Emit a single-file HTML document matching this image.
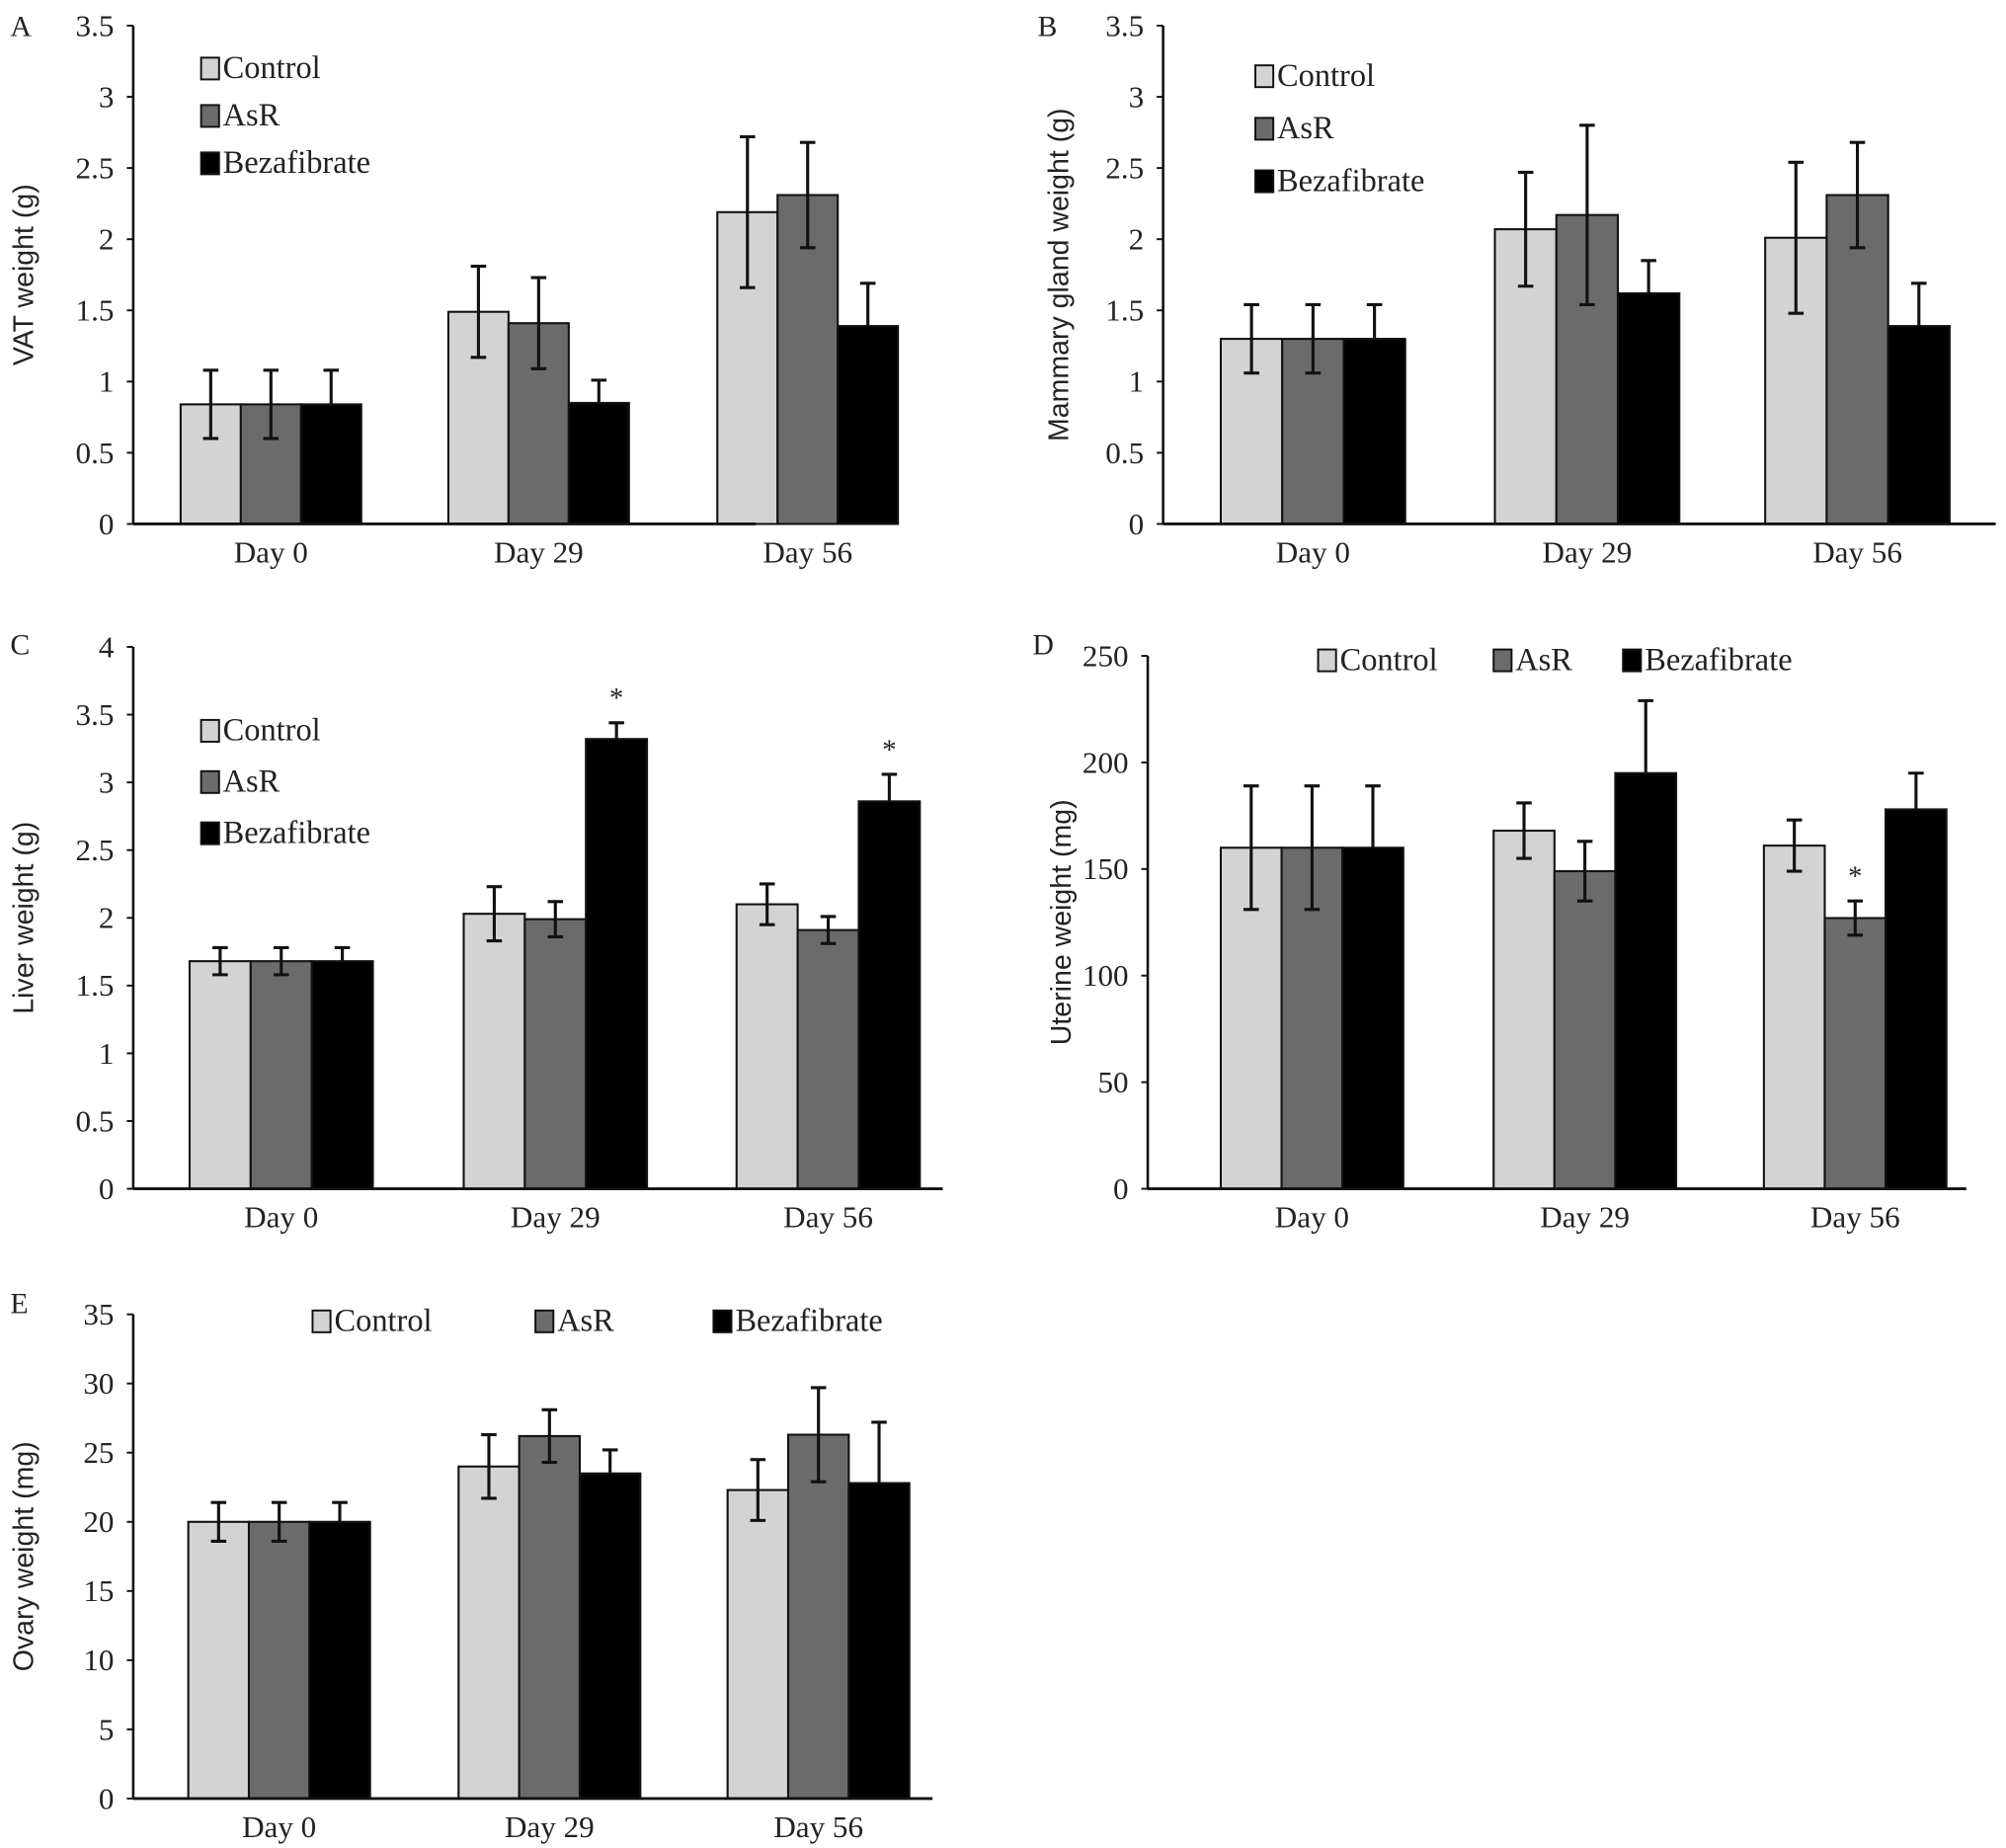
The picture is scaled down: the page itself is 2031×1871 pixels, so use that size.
<!DOCTYPE html>
<html><head><meta charset="utf-8"><style>
html,body{margin:0;padding:0;background:#fff}
svg{display:block}
text{font-family:"Liberation Serif",serif;fill:#222}
.yt{font-family:"Liberation Sans",sans-serif}
</style></head><body>
<svg id="fig" width="2031" height="1871" viewBox="0 0 1566 1442.6" xmlns="http://www.w3.org/2000/svg"></svg>
<script>
// Shared categories and series
const categories = ["Day 0","Day 29","Day 56"];
const seriesNames = ["Control","AsR","Bezafibrate"];
const seriesColors = ["#d3d3d3","#6b6b6b","#000"];

// Panel A: VAT weight (g)
const aValues = [[0.84,1.49,2.19],[0.84,1.41,2.31],[0.84,0.85,1.39]];
const aErrors = [[0.24,0.32,0.53],[0.24,0.32,0.37],[0.24,0.16,0.30]];
const aTicks = [0,0.5,1,1.5,2,2.5,3,3.5];
// Panel B: Mammary gland weight (g)
const bValues = [[1.30,2.07,2.01],[1.30,2.17,2.31],[1.30,1.62,1.39]];
const bErrors = [[0.24,0.40,0.53],[0.24,0.63,0.37],[0.24,0.23,0.30]];
const bTicks = [0,0.5,1,1.5,2,2.5,3,3.5];
// Panel C: Liver weight (g)
const cValues = [[1.68,2.03,2.10],[1.68,1.99,1.91],[1.68,3.32,2.86]];
const cErrors = [[0.10,0.20,0.15],[0.10,0.13,0.10],[0.10,0.12,0.20]];
const cTicks = [0,0.5,1,1.5,2,2.5,3,3.5,4];
const cStars = [[2,1],[2,2]];
// Panel D: Uterine weight (mg)
const dValues = [[160,168,161],[160,149,127],[160,195,178]];
const dErrors = [[29,13,12],[29,14,8],[29,34,17]];
const dTicks = [0,50,100,150,200,250];
const dStars = [[1,2]];
// Panel E: Ovary weight (mg)
const eValues = [[20,24,22.3],[20,26.2,26.3],[20,23.5,22.8]];
const eErrors = [[1.4,2.3,2.2],[1.4,1.9,3.4],[1.4,1.7,4.4]];
const eTicks = [0,5,10,15,20,25,30,35];

const NS="http://www.w3.org/2000/svg";
const svg=document.getElementById('fig');
function mk(tag,attrs,parent,txt){const e=document.createElementNS(NS,tag);for(const k in attrs)e.setAttribute(k,attrs[k]);if(txt!==undefined)e.textContent=txt;(parent||svg).appendChild(e);return e;}

function panel(cfg){
  const g=mk('g',{});
  
  
  const max=cfg.ticks[cfg.ticks.length-1];
  const y=v=>cfg.y0-(v/max)*(cfg.y0-cfg.yTop);
  const x=(gi,si)=>cfg.groups[gi]+si*cfg.bw;
  const L=mk('text',{x:cfg.lx,y:cfg.ly,'font-size':23},g,cfg.id);
  
  
  cfg.ticks.forEach(t=>{
    mk('line',{x1:cfg.ax-5,x2:cfg.ax,y1:y(t),y2:y(t),stroke:'#111','stroke-width':1.5},g);
    const tl=mk('text',{x:cfg.ax-15,y:y(t)+8,'text-anchor':'end','font-size':24},g,String(t));
    
    
  });
  const ty=(cfg.yTop+cfg.y0)/2;
  const yt=mk('text',{x:cfg.tx,y:ty,'text-anchor':'middle','font-size':22,'class':'yt',transform:`rotate(-90 ${cfg.tx} ${ty})`},g,cfg.title);
  
  
  cfg.values.forEach((ser,si)=>{
    ser.forEach((v,gi)=>{
      const b=mk('rect',{x:x(gi,si),y:y(v),width:cfg.bw,height:cfg.y0-y(v),fill:seriesColors[si],stroke:'#111','stroke-width':1.6},g);
      
      
    });
  });
  cfg.values.forEach((ser,si)=>{
    ser.forEach((v,gi)=>{
      const cx=x(gi,si)+cfg.bw/2, e=cfg.errors[si][gi];
      const d = si===2
        ? `M${cx},${y(v+e)}V${y(v)}M${cx-6},${y(v+e)}h12`
        : `M${cx},${y(v+e)}V${y(v-e)}M${cx-6},${y(v+e)}h12M${cx-6},${y(v-e)}h12`;
      const eb=mk('path',{d:d,stroke:'#111','stroke-width':2.4,fill:'none'},g);
      
      
    });
  });
  (cfg.stars||[]).forEach(([si,gi])=>{
    const cx=x(gi,si)+cfg.bw/2;
    const s=mk('text',{x:cx,y:y(cfg.values[si][gi]+cfg.errors[si][gi])-12,'text-anchor':'middle','font-size':22},g,'*');
    
    
  });
  const ya=mk('line',{x1:cfg.ax,x2:cfg.ax,y1:cfg.yTop,y2:cfg.y0,stroke:'#111','stroke-width':2},g);
  
  
  const xa=mk('line',{x1:cfg.ax,x2:cfg.xEnd,y1:cfg.y0,y2:cfg.y0,stroke:'#111','stroke-width':2.2},g);
  
  
  categories.forEach((c,gi)=>{
    const cl=mk('text',{x:cfg.groups[gi]+cfg.bw*1.5,y:cfg.y0+30,'text-anchor':'middle','font-size':24},g,c);
    
    
  });
  seriesNames.forEach((n,si)=>{
    const lx=cfg.leg.x[si], ly=cfg.leg.y[si];
    const lg=mk('g',{},g);
    
    
    mk('rect',{x:lx,y:ly-8,width:14,height:17,fill:seriesColors[si],stroke:'#111','stroke-width':1.5},lg);
    mk('text',{x:lx+17,y:ly+8,'font-size':25},lg,n);
  });
}

panel({id:'A',lx:8,ly:28,ax:104,yTop:20,y0:409,xEnd:590,groups:[141,350,560],bw:47,ticks:aTicks,values:aValues,errors:aErrors,tx:26,title:'VAT weight (g)',leg:{x:[157,157,157],y:[53,90,127]}});
panel({id:'B',lx:810,ly:28,ax:908,yTop:20,y0:409,xEnd:1558,groups:[953,1167,1378],bw:48,ticks:bTicks,values:bValues,errors:bErrors,tx:834,title:'Mammary gland weight (g)',leg:{x:[980,980,980],y:[59,100,141]}});
panel({id:'C',lx:8,ly:511,ax:104,yTop:505,y0:928,xEnd:736,groups:[148,362,575],bw:47.7,ticks:cTicks,values:cValues,errors:cErrors,stars:cStars,tx:26,title:'Liver weight (g)',leg:{x:[157,157,157],y:[570,610,650]}});
panel({id:'D',lx:806,ly:511,ax:896,yTop:512,y0:928,xEnd:1535,groups:[953,1166,1377],bw:47.5,ticks:dTicks,values:dValues,errors:dErrors,stars:dStars,tx:836,title:'Uterine weight (mg)',leg:{x:[1029,1166,1267],y:[515,515,515]}});
panel({id:'E',lx:8,ly:1025,ax:104,yTop:1026,y0:1404,xEnd:728,groups:[147,358,568],bw:47.3,ticks:eTicks,values:eValues,errors:eErrors,tx:26,title:'Ovary weight (mg)',leg:{x:[244,418,557],y:[1031,1031,1031]}});
</script>
</body></html>
